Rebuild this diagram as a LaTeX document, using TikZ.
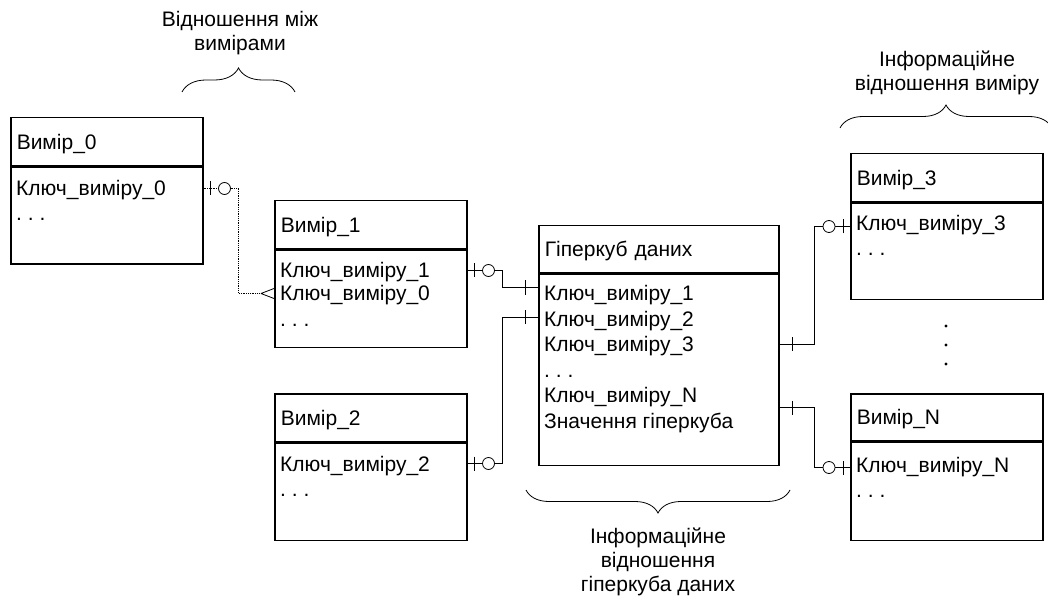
\documentclass[tikz,border=0pt]{standalone}
\usepackage{fontspec}
\setmainfont{Liberation Sans}
\usetikzlibrary{positioning,calc,decorations.pathreplacing}

\tikzset{
  every node/.style={font=\fontsize{21}{25}\selectfont},
  hdr/.style={draw,line width=1.5pt,anchor=north west,minimum height=48pt,inner xsep=6pt,inner ysep=0pt,text height=15pt,text depth=0pt,align=left},
  bdy/.style={draw,line width=1.5pt,anchor=north west,minimum height=97pt,inner sep=0pt},
  row/.style={anchor=west,inner xsep=6pt,inner ysep=0pt,text height=15pt,text depth=0pt},
  conn/.style={line width=0.8pt},
  lbl/.style={align=center,font=\fontsize{21}{24}\selectfont},
  zo/.pic={\draw[conn] (-7pt,-7pt) -- (-7pt,7pt); \filldraw[conn,fill=white] (-21pt,0) circle[radius=6pt];},
  one/.pic={\draw[conn] (-13pt,-7pt) -- (-13pt,7pt);},
  many/.pic={\draw[conn] (-13pt,0) -- (0,-5pt) (-13pt,0) -- (0,5pt);},
}

\begin{document}
\begin{tikzpicture}[x=1pt,y=-1pt]
  \useasboundingbox (0,0) rectangle (1048,601);

  %Vymir_0
  \node[hdr,text width=180pt] (v0) at (10,117) {Вимір\_0};
  \node[bdy,minimum width=192pt] (v0b) at (v0.south west) {};
  \node[row] (v0k1) at ($(v0b.north west)+(0,22)$) {Ключ\_виміру\_0};
  \node[row] (v0k2) at ($(v0b.north west)+(0,47)$) {.\ .\ .};

  %Vymir_1
  \node[hdr,text width=180pt] (v1) at (274,200) {Вимір\_1};
  \node[bdy,minimum width=192pt] (v1b) at (v1.south west) {};
  \node[row] (v1k1) at ($(v1b.north west)+(0,21)$) {Ключ\_виміру\_1};
  \node[row] (v1k2) at ($(v1b.north west)+(0,44)$) {Ключ\_виміру\_0};
  \node[row] (v1k3) at ($(v1b.north west)+(0,69)$) {.\ .\ .};

  %Vymir_2
  \node[hdr,text width=180pt] (v2) at (274,393) {Вимір\_2};
  \node[bdy,minimum width=192pt] (v2b) at (v2.south west) {};
  \node[row] (v2k1) at ($(v2b.north west)+(0,21)$) {Ключ\_виміру\_2};
  \node[row] (v2k2) at ($(v2b.north west)+(0,46)$) {.\ .\ .};

  %hypercube
  \node[hdr,text width=228pt,minimum height=47pt] (g) at (538,225) {Гіперкуб даних};
  \node[bdy,minimum width=240pt,minimum height=191pt] (gb) at (g.south west) {};
  \foreach \t [count=\i] in {Ключ\_виміру\_1,Ключ\_виміру\_2,Ключ\_виміру\_3,.\ .\ .,Ключ\_виміру\_N,Значення гіперкуба}
    \node[row] (gk\i) at ($(gb.north west)+(0,20+25.4*\i-25.4)$) {\t};

  %Vymir_3
  \node[hdr,text width=180pt] (v3) at (850,153) {Вимір\_3};
  \node[bdy,minimum width=192pt,minimum height=96pt] (v3b) at (v3.south west) {};
  \node[row] (v3k1) at ($(v3b.north west)+(0,21)$) {Ключ\_виміру\_3};
  \node[row] (v3k2) at ($(v3b.north west)+(0,46)$) {.\ .\ .};

  %Vymir_N
  \node[hdr,text width=180pt,minimum height=47pt] (vn) at (850,393) {Вимір\_N};
  \node[bdy,minimum width=192pt,minimum height=98pt] (vnb) at (vn.south west) {};
  \node[row] (vnk1) at ($(vnb.north west)+(0,23)$) {Ключ\_виміру\_N};
  \node[row] (vnk2) at ($(vnb.north west)+(0,48)$) {.\ .\ .};

  %vertical dots
  \foreach \y in {326,345,364}
    \fill (946,\y) circle[radius=1.6pt];

  %connectors
  \coordinate (m0) at ($(v0b.east)!0.5!(v1b.west)$);
  \coordinate (m1) at ($(v1b.east)!0.5!(gb.west)$);
  \coordinate (m2) at ($(gb.east)!0.5!(v3b.west)$);
  \coordinate (gmid) at ($(gk5.west)!0.5!(gk6.west)$);
  \draw[conn,densely dotted] (v0k1.west -| v0b.east) -- (v0k1.west -| m0) |- ([xshift=-13pt]v1k2.west -| v1b.west);
  \draw[conn] (v1k1.west -| v1b.east) -- (v1k1.west -| m1) |- ([yshift=6pt]gk1.west -| gb.west);
  \draw[conn] (v2k1.west -| v2b.east) -- (v2k1.west -| m1) |- ([yshift=2pt]gk2.west -| gb.west);
  \draw[conn] (gk3.west -| gb.east) -- (gk3.west -| m2) |- ([yshift=-3pt]v3k1.west -| v3b.west);
  \draw[conn] (gmid -| gb.east) -- (gmid -| m2) |- ([yshift=-3pt]vnk1.west -| vnb.west);

  %ends
  \pic[rotate=180] at (v0k1.west -| v0b.east) {zo};
  \pic at (v1k2.west -| v1b.west) {many};
  \pic[rotate=180] at (v1k1.west -| v1b.east) {zo};
  \pic at ([yshift=6pt]gk1.west -| gb.west) {one};
  \pic[rotate=180] at (v2k1.west -| v2b.east) {zo};
  \pic at ([yshift=2pt]gk2.west -| gb.west) {one};
  \pic[rotate=180] at (gk3.west -| gb.east) {one};
  \pic[rotate=180] at (gmid -| gb.east) {one};
  \pic at ([yshift=-3pt]v3k1.west -| v3b.west) {zo};
  \pic at ([yshift=-3pt]vnk1.west -| vnb.west) {zo};

  %labels and braces
  \node[lbl] (lrel) at (240,33) {Відношення між\\вимірами};
  \draw[conn,decorate,decoration={brace,amplitude=24pt}] (182,92) -- (295,92);
  \node[lbl] (linfo) at (947,73) {Інформаційне\\відношення виміру};
  \draw[conn,decorate,decoration={brace,amplitude=23pt}] (840,128) -- (1052,128);
  \draw[conn,decorate,decoration={brace,amplitude=23pt}] (790,490) -- (526,490);
  \node[lbl] (lcube) at (658,562) {Інформаційне\\відношення\\гіперкуба даних};
\end{tikzpicture}
\end{document}
